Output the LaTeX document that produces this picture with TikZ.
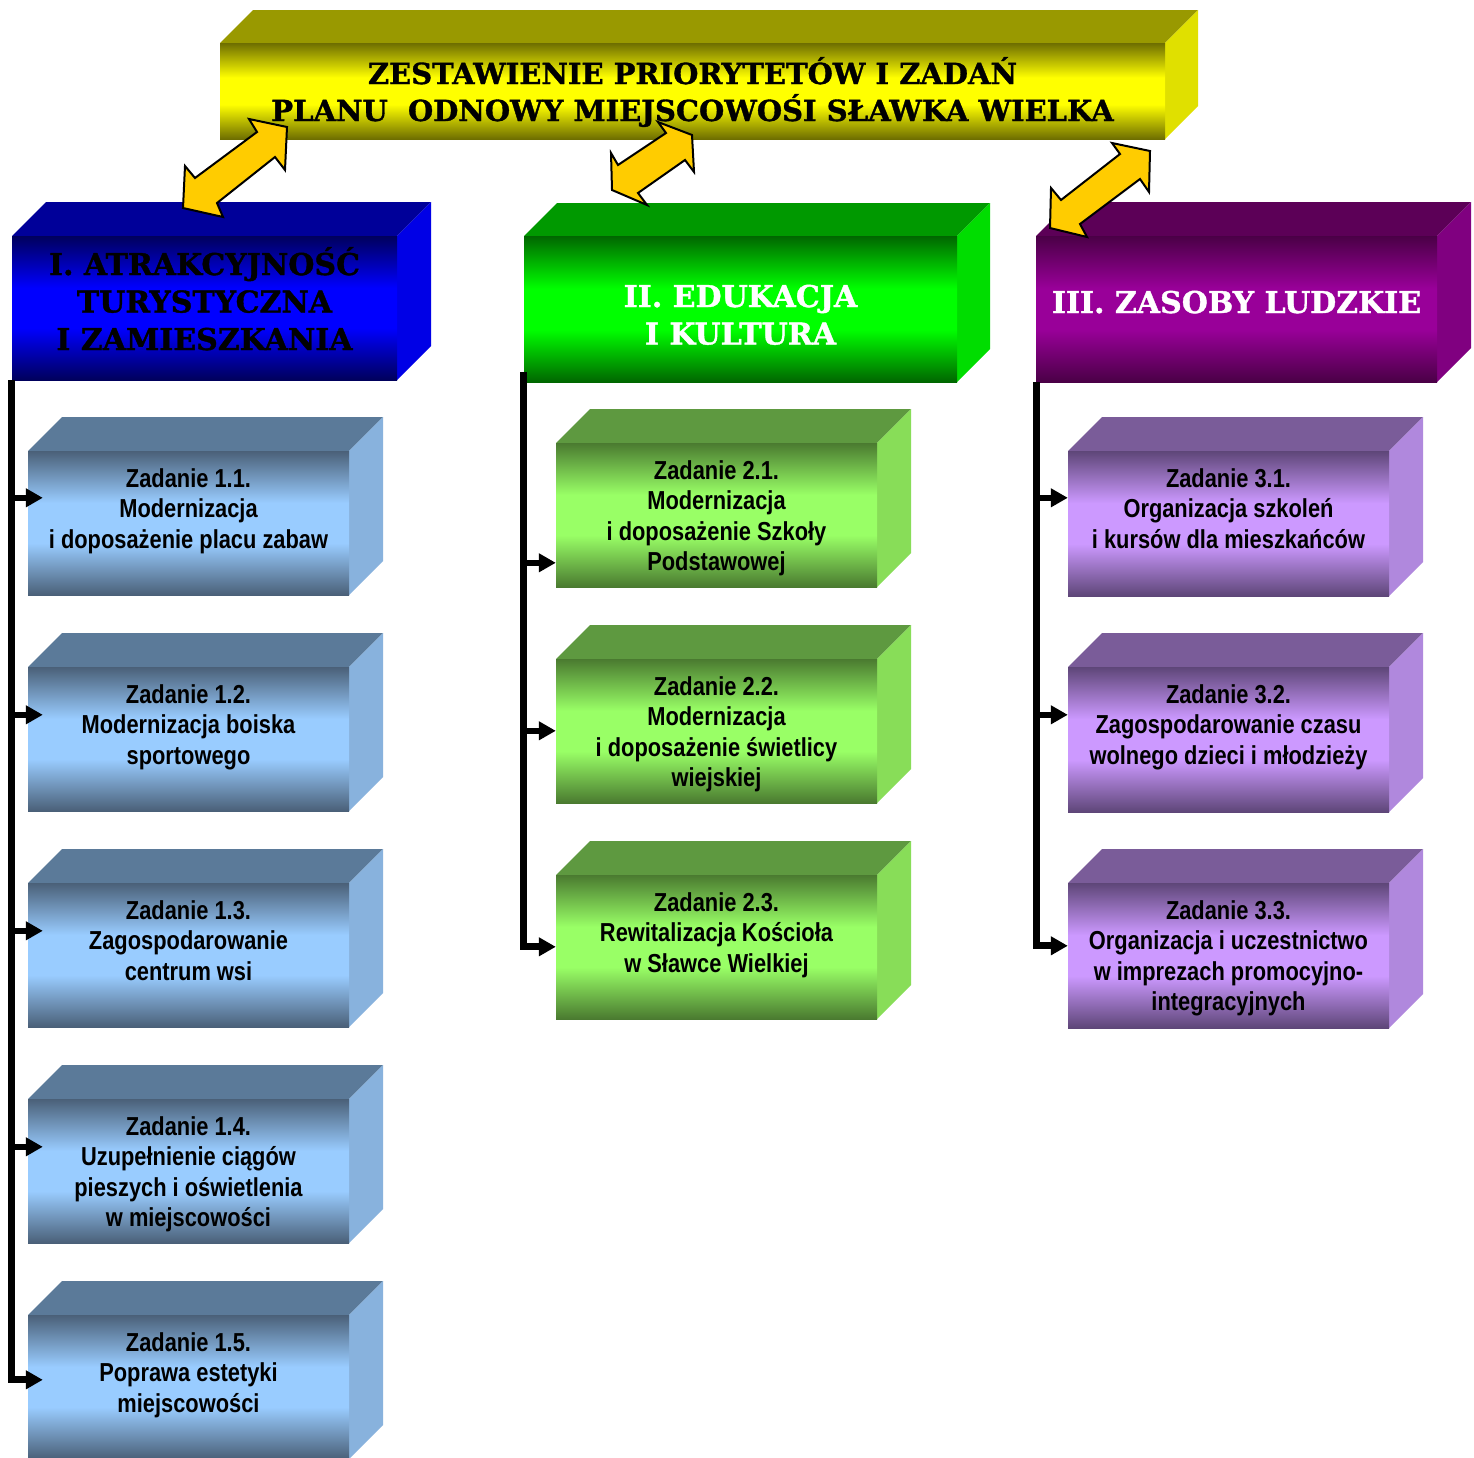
\documentclass[tikz,border=0pt]{standalone}
\usepackage{fontspec}
\usetikzlibrary{arrows.meta,fit}
\newfontfamily\taskfont[FakeStretch=0.84]{Liberation Sans}
\newfontfamily\headfont[BoldFeatures={FakeBold=1.2}]{DejaVu Serif}

\definecolor{titTop}{HTML}{999900}\definecolor{titSide}{HTML}{E0E000}
\definecolor{titDark}{HTML}{6E6E00}\definecolor{titLight}{HTML}{FFFF00}
\definecolor{haTop}{HTML}{000099}\definecolor{haSide}{HTML}{0000E6}
\definecolor{haDark}{HTML}{00005C}\definecolor{haLight}{HTML}{0000FF}
\definecolor{hbTop}{HTML}{009900}\definecolor{hbSide}{HTML}{00DD00}
\definecolor{hbDark}{HTML}{006600}\definecolor{hbLight}{HTML}{00FF00}
\definecolor{hcTop}{HTML}{5C0057}\definecolor{hcSide}{HTML}{800080}
\definecolor{hcDark}{HTML}{4A0046}\definecolor{hcLight}{HTML}{990099}
\definecolor{taTop}{HTML}{5B7A99}\definecolor{taSide}{HTML}{88B2DD}
\definecolor{taDark}{HTML}{4A6078}\definecolor{taLight}{HTML}{99CCFF}
\definecolor{tbTop}{HTML}{5E9940}\definecolor{tbSide}{HTML}{88DD58}
\definecolor{tbDark}{HTML}{4A7A30}\definecolor{tbLight}{HTML}{99FF66}
\definecolor{tcTop}{HTML}{7A5C99}\definecolor{tcSide}{HTML}{B088DD}
\definecolor{tcDark}{HTML}{5E4678}\definecolor{tcLight}{HTML}{CC99FF}
\definecolor{arrYellow}{HTML}{FFCC00}

\newcommand\mkshade[3]{\pgfdeclareverticalshading{#1}{100bp}{color(0bp)=(#2); color(25bp)=(#2); color(43bp)=(#3); color(57bp)=(#3); color(75bp)=(#2); color(100bp)=(#2)}}
\mkshade{shTit}{titDark}{titLight}
\mkshade{shHa}{haDark}{haLight}
\mkshade{shHb}{hbDark}{hbLight}
\mkshade{shHc}{hcDark}{hcLight}
\mkshade{shTa}{taDark}{taLight}
\mkshade{shTb}{tbDark}{tbLight}
\mkshade{shTc}{tcDark}{tcLight}

% #1 name, #2 x1, #3 y1 (top), #4 x2, #5 y2 (bottom), #6 depth, #7 top colour, #8 side colour, #9 shading
\newcommand\cuboid[9]{%
  \fill[#7] (#2,#3) -- (#2+#6,#3-#6) -- (#4+#6,#3-#6) -- (#4,#3) -- cycle;
  \fill[#8] (#4,#3) -- (#4+#6,#3-#6) -- (#4+#6,#5-#6) -- (#4,#5) -- cycle;
  \shade[shading=#9] (#2,#3) rectangle (#4,#5);
  \node[fit={(#2,#3) (#4,#5)}, inner sep=0pt] (#1) {};
}

\tikzset{
  tasktext/.style={anchor=north, align=center, inner sep=0pt, text=black,
    font=\taskfont\bfseries\fontsize{26}{30.5}\selectfont},
  headtext/.style={anchor=north, align=center, inner sep=0pt,
    font=\headfont\bfseries\fontsize{30}{37.5}\selectfont},
  bus/.style={line width=7pt, -{Triangle[length=17pt,width=18pt]}},
  branch/.style={line width=6pt, -{Triangle[length=17pt,width=18pt]}},
  dblarrow/.style={fill=arrYellow, draw=black, line width=2pt, line join=miter}
}

\begin{document}
\begin{tikzpicture}[x=1pt,y=-1pt]
\fill[white] (0,0) rectangle (1474,1457);
\useasboundingbox (0,0) rectangle (1474,1457);

% headings
\cuboid{title}{220}{43}{1165}{139}{33}{titTop}{titSide}{shTit}
\cuboid{h1}{12}{236}{397}{380}{34}{haTop}{haSide}{shHa}
\cuboid{h2}{524}{236}{957}{382}{33}{hbTop}{hbSide}{shHb}
\cuboid{h3}{1036}{236}{1437}{382}{34}{hcTop}{hcSide}{shHc}

\node[headtext, text=black, font=\headfont\bfseries\fontsize{29}{37}\selectfont] (titletext) at ([yshift=-11pt]title.north)
  {\rule{0pt}{30pt}ZESTAWIENIE PRIORYTETÓW I ZADAŃ\\PLANU\ \ ODNOWY MIEJSCOWOŚI SŁAWKA WIELKA};
\node[headtext, text=black] (h1text) at ([yshift=-9pt]h1.north)
  {\rule{0pt}{30pt}I. ATRAKCYJNOŚĆ\\TURYSTYCZNA\\I ZAMIESZKANIA};
\node[headtext, text=white] (h2text) at ([yshift=-41pt]h2.north)
  {\rule{0pt}{30pt}II. EDUKACJA\\I KULTURA};
\node[headtext, text=white] (h3text) at ([yshift=-47pt]h3.north)
  {\rule{0pt}{30pt}III. ZASOBY LUDZKIE};

% column 1 tasks
\cuboid{t11}{28}{451}{349}{595}{34}{taTop}{taSide}{shTa}
\cuboid{t12}{28}{667}{349}{811}{34}{taTop}{taSide}{shTa}
\cuboid{t13}{28}{883}{349}{1027}{34}{taTop}{taSide}{shTa}
\cuboid{t14}{28}{1099}{349}{1243}{34}{taTop}{taSide}{shTa}
\cuboid{t15}{28}{1315}{349}{1459}{34}{taTop}{taSide}{shTa}
% column 2 tasks
\cuboid{t21}{556}{443}{877}{587}{34}{tbTop}{tbSide}{shTb}
\cuboid{t22}{556}{659}{877}{803}{34}{tbTop}{tbSide}{shTb}
\cuboid{t23}{556}{875}{877}{1019}{34}{tbTop}{tbSide}{shTb}
% column 3 tasks
\cuboid{t31}{1068}{451}{1389}{596}{34}{tcTop}{tcSide}{shTc}
\cuboid{t32}{1068}{667}{1389}{812}{34}{tcTop}{tcSide}{shTc}
\cuboid{t33}{1068}{883}{1389}{1028}{34}{tcTop}{tcSide}{shTc}

\node[tasktext] (t11text) at ([yshift=-11pt]t11.north) {\rule{0pt}{25pt}Zadanie 1.1.\\Modernizacja\\i doposażenie placu zabaw};
\node[tasktext] (t12text) at ([yshift=-11pt]t12.north) {\rule{0pt}{25pt}Zadanie 1.2.\\Modernizacja boiska\\sportowego};
\node[tasktext] (t13text) at ([yshift=-11pt]t13.north) {\rule{0pt}{25pt}Zadanie 1.3.\\Zagospodarowanie\\centrum wsi};
\node[tasktext] (t14text) at ([yshift=-11pt]t14.north) {\rule{0pt}{25pt}Zadanie 1.4.\\Uzupełnienie ciągów\\pieszych i oświetlenia\\w miejscowości};
\node[tasktext] (t15text) at ([yshift=-11pt]t15.north) {\rule{0pt}{25pt}Zadanie 1.5.\\Poprawa estetyki\\miejscowości};
\node[tasktext] (t21text) at ([yshift=-11pt]t21.north) {\rule{0pt}{25pt}Zadanie 2.1.\\Modernizacja\\i doposażenie Szkoły\\Podstawowej};
\node[tasktext] (t22text) at ([yshift=-11pt]t22.north) {\rule{0pt}{25pt}Zadanie 2.2.\\Modernizacja\\i doposażenie świetlicy\\wiejskiej};
\node[tasktext] (t23text) at ([yshift=-11pt]t23.north) {\rule{0pt}{25pt}Zadanie 2.3.\\Rewitalizacja Kościoła\\w Sławce Wielkiej};
\node[tasktext] (t31text) at ([yshift=-11pt]t31.north) {\rule{0pt}{25pt}Zadanie 3.1.\\Organizacja szkoleń\\i kursów dla mieszkańców};
\node[tasktext] (t32text) at ([yshift=-11pt]t32.north) {\rule{0pt}{25pt}Zadanie 3.2.\\Zagospodarowanie czasu\\wolnego dzieci i młodzieży};
\node[tasktext] (t33text) at ([yshift=-11pt]t33.north) {\rule{0pt}{25pt}Zadanie 3.3.\\Organizacja i uczestnictwo\\w imprezach promocyjno-\\integracyjnych};

% connector end points
\coordinate (e11) at ([shift={(15pt,-47pt)}]t11.north west);
\coordinate (e12) at ([shift={(15pt,-48pt)}]t12.north west);
\coordinate (e13) at ([shift={(15pt,-48pt)}]t13.north west);
\coordinate (e14) at ([shift={(15pt,-48pt)}]t14.north west);
\coordinate (e15) at ([shift={(15pt,-65pt)}]t15.north west);
\coordinate (e21) at ([shift={(0pt,-120pt)}]t21.north west);
\coordinate (e22) at ([shift={(0pt,-72pt)}]t22.north west);
\coordinate (e23) at ([shift={(0pt,-72pt)}]t23.north west);
\coordinate (e31) at ([shift={(0pt,-47pt)}]t31.north west);
\coordinate (e32) at ([shift={(0pt,-48pt)}]t32.north west);
\coordinate (e33) at ([shift={(0pt,-63pt)}]t33.north west);
\coordinate (b1) at (h1.south west);
\coordinate (b2) at ([yshift=10pt]h2.south west);
\coordinate (b3) at ([xshift=1pt]h3.south west);

% column 1 connectors
\draw[bus] (b1) |- (e15);
\draw[branch] (e11 -| b1) -- (e11);
\draw[branch] (e12 -| b1) -- (e12);
\draw[branch] (e13 -| b1) -- (e13);
\draw[branch] (e14 -| b1) -- (e14);
% column 2 connectors
\draw[bus] (b2) |- (e23);
\draw[branch] (e21 -| b2) -- (e21);
\draw[branch] (e22 -| b2) -- (e22);
% column 3 connectors
\draw[bus] (b3) |- (e33);
\draw[branch] (e31 -| b3) -- (e31);
\draw[branch] (e32 -| b3) -- (e32);

% yellow double arrows
\draw[dblarrow] (183,208) -- (185,166) -- (195,178) -- (257,132) -- (249,119) -- (287,127) -- (285,170) -- (275,157) -- (217,203) -- (223,217) -- cycle;
\draw[dblarrow] (612,190) -- (611,153) -- (618,165) -- (666,133) -- (658,122) -- (692,135) -- (694,172) -- (685,160) -- (638,193) -- (647,205) -- cycle;
\draw[dblarrow] (1050,228) -- (1051,188) -- (1061,200) -- (1120,154) -- (1112,143) -- (1150,151) -- (1149,192) -- (1140,179) -- (1080,224) -- (1087,237) -- cycle;
\end{tikzpicture}
\end{document}
